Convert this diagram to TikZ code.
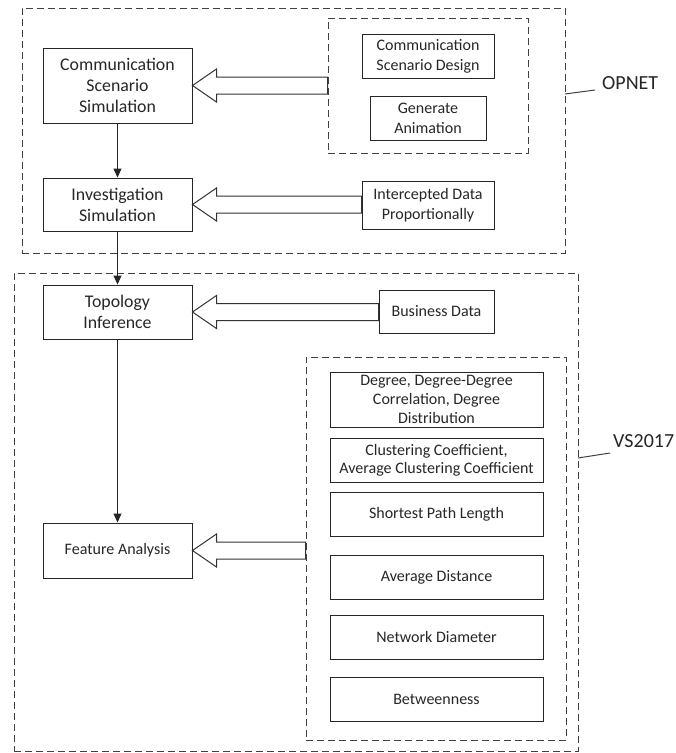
\documentclass[tikz,border=0pt]{standalone}
\usepackage{fontspec}
\setmainfont{Carlito}
\usetikzlibrary{arrows.meta,calc}
\tikzset{
  box/.style={draw=black!85, line width=1pt, rectangle, inner sep=0pt, align=center,
    font=\fontsize{16}{20}\selectfont, text=black!85},
  bigbox/.style={box, font=\fontsize{17.8}{21}\selectfont},
  group/.style={draw=black!75, line width=1pt, dash pattern=on 7pt off 4pt, rectangle, inner sep=0pt},
  flow/.style={draw=black!85, line width=1pt, -{Triangle[length=9pt,width=8pt]}},
  hollowarrow/.style={draw=black!80, line width=1pt, fill=white, line join=miter},
  callout/.style={draw=black!75, line width=1pt},
  tag/.style={font=\fontsize{20}{24}\selectfont, text=black!85, inner sep=0pt, anchor=west}
}
\newcommand\hollowarr[2]{%
  \draw[hollowarrow] let \p1=(#1.west), \p2=(#2.east) in
    (\x1,{\y2+8.5pt}) -- ({\x2+24pt},{\y2+8.5pt}) -- ({\x2+24pt},{\y2+16.5pt}) -- (\x2,\y2)
    -- ({\x2+24pt},{\y2-16.5pt}) -- ({\x2+24pt},{\y2-8.5pt}) -- (\x1,{\y2-8.5pt}) -- cycle;}
\begin{document}
\begin{tikzpicture}[x=1pt,y=-1pt]
\useasboundingbox (0,0) rectangle (676,753);
% groups
\node[group, minimum width=543pt, minimum height=245pt] (opnet) at (293.5,130.5) {};
\node[group, minimum width=200pt, minimum height=135pt] (design) at (428,85.5) {};
\node[group, minimum width=564pt, minimum height=478pt] (vs) at (296,512) {};
\node[group, minimum width=260pt, minimum height=383pt] (feat) at (436,548.5) {};
% left boxes
\node[bigbox, minimum width=149pt, minimum height=75pt] (css) at (117.5,85.5) {Communication\\Scenario\\Simulation};
\node[bigbox, minimum width=149pt, minimum height=53pt] (inv) at (117.5,204.5) {Investigation\\Simulation};
\node[bigbox, minimum width=149pt, minimum height=54pt] (top) at (117.5,312) {Topology\\Inference};
\node[box, minimum width=149pt, minimum height=55pt] (fa) at (117.5,550.5) {Feature Analysis};
% right boxes
\node[box, minimum width=132pt, minimum height=44pt] (csd) at (428,56) {Communication\\Scenario Design};
\node[box, minimum width=116pt, minimum height=44pt] (ga) at (428,118) {Generate\\Animation};
\node[box, minimum width=132pt, minimum height=48pt] (idp) at (428,205) {Intercepted Data\\Proportionally};
\node[box, minimum width=115pt, minimum height=43pt] (bd) at (436.5,311.5) {Business Data};
\node[box, minimum width=213pt, minimum height=55pt, font=\fontsize{16}{19}\selectfont] (deg) at (436.5,399.5) {Degree, Degree-Degree\\Correlation, Degree\\Distribution};
\node[box, minimum width=213pt, minimum height=44pt, font=\fontsize{16}{18}\selectfont] (clu) at (436.5,460) {Clustering Coefficient,\\Average Clustering Coefficient};
\node[box, minimum width=213pt, minimum height=44pt] (spl) at (436.5,514) {Shortest Path Length};
\node[box, minimum width=213pt, minimum height=44pt] (ad) at (436.5,577) {Average Distance};
\node[box, minimum width=213pt, minimum height=44pt] (nd) at (436.5,637) {Network Diameter};
\node[box, minimum width=213pt, minimum height=44pt] (btw) at (436.5,699) {Betweenness};
% flow
\draw[flow] (css.south) -- (inv.north);
\draw[flow] (inv.south) -- (top.north);
\draw[flow] (top.south) -- (fa.north);
% hollow arrows
\hollowarr{design}{css}
\hollowarr{idp}{inv}
\hollowarr{bd}{top}
\hollowarr{feat}{fa}
% labels
\node[tag] (opl) at (602,83) {OPNET};
\node[tag] (vsl) at (613,441) {VS2017};
\coordinate (opc) at (565,94);
\coordinate (vsc) at (578,458);
\draw[callout] (opc) -- ($(opl.west)+(-7,7)$);
\draw[callout] (vsc) -- ($(vsl.west)+(-3,12)$);
\end{tikzpicture}
\end{document}
